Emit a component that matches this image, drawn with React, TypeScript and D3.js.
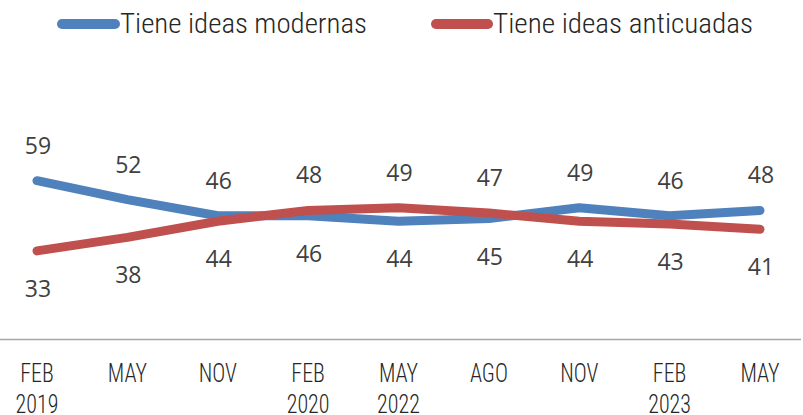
import React, { useEffect, useRef } from 'react';
import * as d3 from 'd3';

const periods = ['FEB 2019', 'MAY', 'NOV', 'FEB 2020', 'MAY 2022', 'AGO', 'NOV', 'FEB 2023', 'MAY'];
const modernas = [59, 52, 46, 46, 44, 45, 49, 46, 48];
const anticuadas = [33, 38, 44, 48, 49, 47, 44, 43, 41];
const seriesNames = ['Tiene ideas modernas', 'Tiene ideas anticuadas'];
const colors = ['#4F81BD', '#C0504D'];

const App: React.FC = () => {
  const svgRef = useRef<SVGSVGElement>(null);

  useEffect(() => {
    if (!svgRef.current) return;
    document.body.style.margin = '0';
    const svg = d3.select(svgRef.current);
    svg.selectAll('*').remove();

    const width = 803;
    const height = 415;

    const x = d3.scalePoint<number>()
      .domain(d3.range(periods.length))
      .range([37, 760]);

    const y = d3.scaleLinear().domain([0, 100]).range([340, 70]);

    // baseline
    svg.append('line')
      .attr('x1', 0).attr('x2', 801)
      .attr('y1', 339.5).attr('y2', 339.5)
      .attr('stroke', '#A6A6A6')
      .attr('stroke-width', 1.5);

    // x labels (two lines)
    const labels = svg.append('g').attr('fill', '#262626')
      .style('font-family', '"Roboto Condensed", Roboto, sans-serif')
      .style('font-weight', 300)
      .style('font-size', '25px');
    periods.forEach((p, i) => {
      const parts = p.split(' ');
      parts.forEach((part, j) => {
        labels.append('text')
          .attr('transform', `translate(${x(i)},${382 + j * 31}) scale(0.88,1)`)
          .attr('text-anchor', 'middle')
          .text(part);
      });
    });

    const line = d3.line<number>()
      .x((_, i) => x(i) as number)
      .y(d => y(d));

    const data = [modernas, anticuadas];
    data.forEach((vals, s) => {
      svg.append('path')
        .datum(vals)
        .attr('d', line)
        .attr('fill', 'none')
        .attr('stroke', colors[s])
        .attr('stroke-width', 9)
        .attr('stroke-linecap', 'round')
        .attr('stroke-linejoin', 'round');
    });

    // data labels: higher value above the lines, lower one below
    data.forEach((vals, s) => {
      const other = data[1 - s];
      svg.append('g')
        .selectAll('text')
        .data(vals)
        .enter()
        .append('text')
        .attr('x', (_, i) => (x(i) as number) + 1)
        .attr('y', (d, i) => {
          const above = d > other[i] || (d === other[i] && s === 0);
          return (above ? y(d) - 35 : y(d) + 38) + 8;
        })
        .attr('text-anchor', 'middle')
        .attr('fill', '#404040')
        .style('font-family', '"Open Sans", sans-serif')
        .style('font-size', '23px')
        .text(d => d);
    });

    // legend
    const legend = [
      { x1: 62, x2: 115, tx: 120, tl: 247 },
      { x1: 436, x2: 488, tx: 493, tl: 260 }
    ];
    legend.forEach((l, s) => {
      svg.append('line')
        .attr('x1', l.x1).attr('x2', l.x2)
        .attr('y1', 24).attr('y2', 24)
        .attr('stroke', colors[s])
        .attr('stroke-width', 10)
        .attr('stroke-linecap', 'round');
      svg.append('text')
        .attr('x', l.tx).attr('y', 33)
        .attr('fill', '#262626')
        .attr('textLength', l.tl)
        .attr('lengthAdjust', 'spacingAndGlyphs')
        .style('font-family', '"Roboto Condensed", Roboto, sans-serif')
        .style('font-weight', 300)
        .style('font-size', '28px')
        .text(seriesNames[s]);
    });

    svg.attr('width', width).attr('height', height);
  }, []);

  return (
    <svg ref={svgRef} width={803} height={415}
      style={{ display: 'block', position: 'absolute', left: 0, top: 0, background: '#fff' }} />
  );
};

export default App;
